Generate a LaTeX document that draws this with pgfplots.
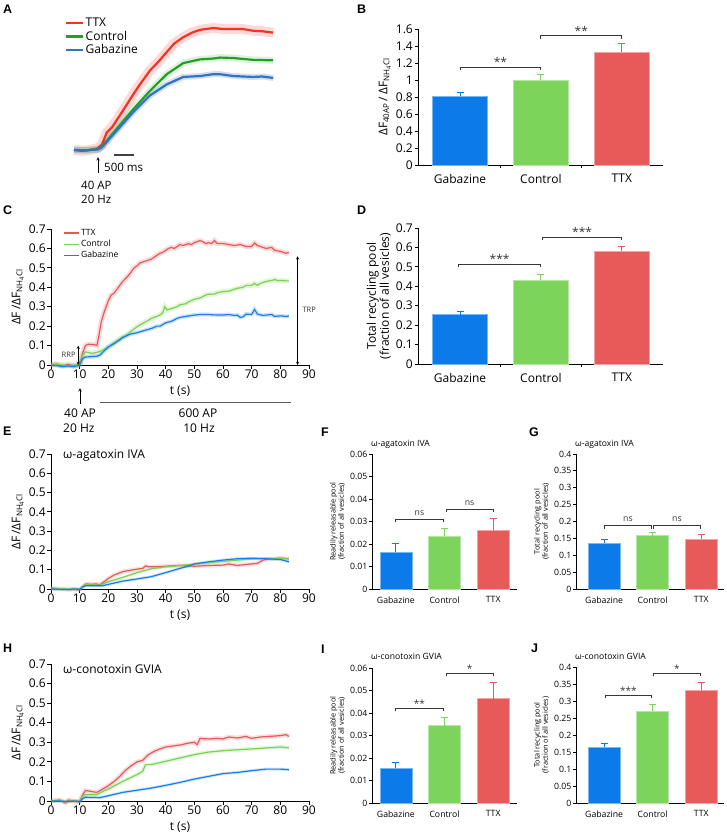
\documentclass[border=0pt]{standalone}
\usepackage{fontspec}
\setmainfont{Open Sans}
\newfontfamily\letterfont{Liberation Sans}
\usepackage{pgfplots}
\usepackage{pgfplotstable}
\pgfplotsset{compat=1.18}

\definecolor{cGab}{RGB}{12,122,232}
\definecolor{cCtl}{RGB}{125,212,90}
\definecolor{cTTX}{RGB}{232,90,90}
\definecolor{lTTX}{RGB}{232,88,88}
\definecolor{lCtl}{RGB}{122,210,82}
\definecolor{lGab}{RGB}{25,125,240}
\definecolor{aTTX}{RGB}{245,50,35}
\definecolor{aCtl}{RGB}{35,160,35}
\definecolor{aGab}{RGB}{50,115,195}
\definecolor{brk}{RGB}{55,55,55}

% ---------- Panel A data (t in s from stimulus, normalised dF) ----------
\pgfplotstableread[row sep=\\]{t v\\ -0.6 0\\ -0.4 -0.01\\ -0.2 0\\ 0 0.02\\ 0.1 0.06\\ 0.22 0.19\\ 0.35 0.245\\ 0.6 0.41\\ 0.88 0.6\\ 1.05 0.71\\ 1.3 0.86\\ 1.5 0.95\\ 1.72 1.06\\ 1.9 1.15\\ 2.13 1.22\\ 2.35 1.27\\ 2.55 1.3\\ 2.88 1.32\\ 3.1 1.31\\ 3.38 1.31\\ 3.6 1.31\\ 3.88 1.29\\ 4.1 1.285\\ 4.38 1.27\\}\Attx
\pgfplotstableread[row sep=\\]{t v\\ -0.6 0\\ -0.3 -0.005\\ 0 0.01\\ 0.1 0.04\\ 0.47 0.23\\ 0.88 0.44\\ 1.3 0.64\\ 1.72 0.82\\ 2.13 0.94\\ 2.55 0.98\\ 2.9 0.99\\ 3.05 1.0\\ 3.38 0.995\\ 3.88 0.975\\ 4.38 0.97\\}\Actl
\pgfplotstableread[row sep=\\]{t v\\ -0.6 0\\ -0.3 -0.003\\ 0 0.005\\ 0.1 0.03\\ 0.47 0.21\\ 0.88 0.41\\ 1.3 0.59\\ 1.72 0.71\\ 2.13 0.79\\ 2.55 0.8\\ 2.88 0.82\\ 3.05 0.82\\ 3.38 0.8\\ 3.88 0.79\\ 4.1 0.795\\ 4.38 0.78\\}\Agab

% ---------- Panel C ----------
\pgfplotstableread[row sep=\\]{t v\\ 0 0\\ 2 0.005\\ 4 -0.005\\ 6 0.003\\ 8 -0.005\\ 10 0\\ 11 0.06\\ 12 0.1\\ 13 0.107\\ 15 0.105\\ 16 0.1\\ 16.7 0.15\\ 17.5 0.22\\ 18.5 0.27\\ 20 0.33\\ 21 0.36\\ 22 0.37\\ 23 0.39\\ 24 0.41\\ 25 0.43\\ 26 0.445\\ 27 0.46\\ 28 0.48\\ 29 0.5\\ 30 0.51\\ 31 0.525\\ 32 0.53\\ 33 0.535\\ 34 0.54\\ 35 0.545\\ 36 0.555\\ 37 0.565\\ 38 0.575\\ 39 0.58\\ 40 0.59\\ 41 0.6\\ 42 0.605\\ 43 0.6\\ 44 0.61\\ 45 0.62\\ 46 0.615\\ 47 0.62\\ 48 0.625\\ 49 0.62\\ 50 0.63\\ 51 0.635\\ 52 0.64\\ 53 0.635\\ 54 0.625\\ 55 0.63\\ 56 0.625\\ 57 0.64\\ 58 0.625\\ 59 0.625\\ 60 0.625\\ 62 0.62\\ 64 0.615\\ 66 0.62\\ 68 0.61\\ 70 0.61\\ 71 0.628\\ 72 0.615\\ 73 0.61\\ 75 0.6\\ 77 0.605\\ 78 0.59\\ 80 0.585\\ 81 0.58\\ 82 0.575\\ 83 0.58\\}\Cttx
\pgfplotstableread[row sep=\\]{t v\\ 0 0\\ 2 0.003\\ 4 0\\ 6 -0.003\\ 8 0\\ 10 0\\ 11 0.05\\ 12 0.067\\ 13 0.065\\ 14 0.06\\ 15 0.062\\ 16 0.065\\ 18 0.076\\ 20 0.093\\ 22 0.115\\ 24 0.135\\ 25 0.145\\ 26 0.15\\ 28 0.175\\ 30 0.197\\ 32 0.215\\ 34 0.23\\ 35 0.24\\ 36 0.245\\ 38 0.257\\ 39 0.27\\ 39.7 0.3\\ 40.5 0.283\\ 42 0.29\\ 44 0.3\\ 45 0.31\\ 47 0.315\\ 48 0.325\\ 50 0.338\\ 52 0.345\\ 54 0.36\\ 55 0.364\\ 57 0.365\\ 58 0.372\\ 60 0.378\\ 62 0.38\\ 64 0.39\\ 65 0.395\\ 67 0.4\\ 68 0.41\\ 70 0.41\\ 71 0.42\\ 72 0.41\\ 73 0.42\\ 75 0.43\\ 77 0.435\\ 78 0.44\\ 79 0.435\\ 80 0.435\\ 82 0.433\\ 83 0.433\\}\Cctl
\pgfplotstableread[row sep=\\]{t v\\ 0 0\\ 2 -0.003\\ 4 -0.008\\ 6 -0.005\\ 8 -0.008\\ 10 0\\ 11 0.033\\ 12 0.041\\ 14 0.043\\ 16 0.045\\ 17 0.05\\ 18 0.065\\ 20 0.093\\ 22 0.11\\ 24 0.13\\ 25 0.141\\ 27 0.155\\ 28 0.16\\ 30 0.166\\ 32 0.175\\ 35 0.188\\ 37 0.2\\ 38 0.2\\ 40 0.217\\ 42 0.225\\ 44 0.24\\ 45 0.245\\ 47 0.25\\ 50 0.257\\ 52 0.26\\ 55 0.26\\ 57 0.258\\ 60 0.257\\ 62 0.26\\ 64 0.255\\ 65 0.257\\ 66 0.245\\ 67 0.248\\ 68 0.262\\ 70 0.26\\ 71 0.286\\ 72 0.262\\ 74 0.255\\ 75 0.257\\ 77 0.26\\ 78 0.25\\ 80 0.253\\ 82 0.25\\ 83 0.252\\}\Cgab

% ---------- Panel E ----------
\pgfplotstableread[row sep=\\]{t v\\ 0 0.005\\ 2 0.003\\ 4 0\\ 6 -0.003\\ 8 -0.002\\ 10 -0.005\\ 11 0.01\\ 12 0.026\\ 14 0.025\\ 16 0.026\\ 17 0.022\\ 19 0.043\\ 20 0.055\\ 22 0.072\\ 25 0.09\\ 28 0.098\\ 30 0.103\\ 32 0.107\\ 33 0.12\\ 34 0.115\\ 36 0.115\\ 40 0.118\\ 45 0.122\\ 50 0.118\\ 55 0.122\\ 60 0.124\\ 62 0.13\\ 65 0.122\\ 70 0.13\\ 72 0.133\\ 74 0.15\\ 76 0.155\\ 80 0.16\\ 83 0.157\\}\Ettx
\pgfplotstableread[row sep=\\]{t v\\ 0 0\\ 3 0.002\\ 6 0\\ 8 0.002\\ 10 0\\ 11 0.012\\ 12 0.022\\ 17 0.02\\ 20 0.038\\ 25 0.06\\ 30 0.085\\ 35 0.105\\ 40 0.115\\ 45 0.122\\ 50 0.13\\ 55 0.136\\ 60 0.143\\ 65 0.15\\ 70 0.155\\ 75 0.158\\ 80 0.158\\ 83 0.157\\}\Ectl
\pgfplotstableread[row sep=\\]{t v\\ 0 0\\ 3 -0.002\\ 6 -0.003\\ 8 0\\ 10 -0.002\\ 11 0.01\\ 12 0.017\\ 18 0.017\\ 20 0.024\\ 25 0.041\\ 30 0.052\\ 35 0.064\\ 40 0.085\\ 45 0.107\\ 48 0.119\\ 50 0.13\\ 55 0.141\\ 60 0.15\\ 65 0.157\\ 70 0.16\\ 75 0.157\\ 80 0.153\\ 83 0.141\\}\Egab

% ---------- Panel H ----------
\pgfplotstableread[row sep=\\]{t v\\ 0 0\\ 3 0.005\\ 5 -0.01\\ 6 0.005\\ 8 0\\ 10 -0.005\\ 11 0.03\\ 12 0.054\\ 14 0.049\\ 16 0.044\\ 18 0.061\\ 20 0.078\\ 22 0.1\\ 24 0.126\\ 26 0.157\\ 28 0.18\\ 30 0.2\\ 32 0.208\\ 34 0.237\\ 36 0.254\\ 38 0.266\\ 40 0.276\\ 42 0.28\\ 45 0.286\\ 48 0.296\\ 50 0.3\\ 51 0.288\\ 52 0.32\\ 55 0.317\\ 58 0.32\\ 60 0.317\\ 62 0.327\\ 65 0.322\\ 68 0.33\\ 70 0.32\\ 73 0.327\\ 76 0.33\\ 80 0.334\\ 82 0.339\\ 83 0.33\\}\Httx
\pgfplotstableread[row sep=\\]{t v\\ 0 0\\ 3 0.003\\ 5 -0.005\\ 7 0\\ 10 0\\ 11 0.025\\ 12 0.032\\ 16 0.032\\ 18 0.049\\ 20 0.061\\ 25 0.1\\ 30 0.135\\ 32 0.152\\ 32.7 0.177\\ 33 0.186\\ 35 0.186\\ 40 0.203\\ 45 0.22\\ 50 0.237\\ 55 0.25\\ 60 0.257\\ 65 0.262\\ 70 0.266\\ 75 0.271\\ 80 0.276\\ 83 0.272\\}\Hctl
\pgfplotstableread[row sep=\\]{t v\\ 0 0\\ 3 0\\ 6 -0.003\\ 8 0\\ 10 -0.003\\ 11 0.012\\ 12 0.019\\ 17 0.017\\ 20 0.027\\ 25 0.044\\ 30 0.055\\ 35 0.066\\ 40 0.08\\ 45 0.095\\ 50 0.112\\ 55 0.126\\ 60 0.14\\ 65 0.146\\ 70 0.155\\ 75 0.163\\ 80 0.163\\ 83 0.16\\}\Hgab

\newcommand{\fs}[1]{\fontsize{#1}{#1}\selectfont}
% bracket: x1, x2, xmid, y, text, font size, text yshift
\newcommand{\br}[7]{%
  \draw[brk, line width=0.9pt] ([yshift=-3pt]axis cs:#1,#4) -- (axis cs:#1,#4) -- (axis cs:#2,#4) -- ([yshift=-3pt]axis cs:#2,#4);
  \node[anchor=base, inner sep=0pt, text=brk, font=\fs{#6}] at ([yshift=#7]axis cs:#3,#4) {#5};}

\pgfplotsset{
  base/.style={scale only axis, anchor=south west, axis x line*=bottom, axis y line*=left,
    axis line style={line width=0.9pt, black}, tick style={line width=0.9pt, black},
    tick align=outside, major tick length=3.5pt, scaled ticks=false, clip=false,
    /pgf/number format/assume math mode=true, /pgf/number format/fixed,
    /pgf/number format/precision=3},
  big/.style={base, tick label style={font=\fs{12}, inner sep=1.5pt}, label style={font=\fs{12}}},
  small/.style={base, major tick length=3pt, tick label style={font=\fs{8.7}, inner sep=1.5pt},
    label style={font=\fs{7.3}}},
  barax/.style={ybar, bar shift=0pt, xtick={0,1,2}, xticklabels={Gabazine,Control,TTX},
    xtick style={draw=none}, ymin=0},
  errb/.style={error bars/y dir=plus, error bars/y explicit,
    error bars/error bar style={#1, line width=1pt},
    error bars/error mark options={#1, line width=1pt, mark size=3.5pt, rotate=90}},
  lineax/.style={big, width=258pt, xmin=0, xmax=90, ymin=0, ymax=0.7,
    xtick={0,10,20,30,40,50,60,70,80,90}, ytick={0,0.1,0.2,0.3,0.4,0.5,0.6,0.7},
    xlabel={t (s)}, xlabel style={yshift=-2pt},
    ylabel={ΔF\,/ΔF\textsubscript{NH\textsubscript{4}Cl}}},
}

\begin{document}
\begin{tikzpicture}
\path[use as bounding box] (0pt,0pt) rectangle (726pt,-838pt);

% ================= A =================
\begin{axis}[scale only axis, anchor=south west, at={(74pt,-159.2pt)}, width=200pt, height=138.6pt,
  xmin=-0.6, xmax=4.4, ymin=-0.1, ymax=1.4, hide axis, clip=false,
  legend style={draw=none, fill=none, at={(axis cs:-0.83,1.445)}, anchor=north west,
    font=\fs{12}, inner sep=0pt, row sep=0pt, nodes={inner sep=1.5pt}},
  legend cell align=left,
  legend image code/.code={\draw[#1] (0pt,0pt) -- (17pt,0pt);}]
\addplot[aTTX, line width=10pt, opacity=0.18, forget plot] table[x=t,y=v]{\Attx};
\addplot[aCtl, line width=7pt, opacity=0.15, forget plot] table[x=t,y=v]{\Actl};
\addplot[aGab, line width=6pt, opacity=0.22, forget plot] table[x=t,y=v]{\Agab};
\addplot[aTTX, line width=2.2pt] table[x=t,y=v]{\Attx};
\addplot[aCtl, line width=2.2pt] table[x=t,y=v]{\Actl};
\addplot[aGab, line width=2.2pt] table[x=t,y=v]{\Agab};
\legend{TTX,Control,Gabazine}
\draw[line width=1.2pt, black!75] (axis cs:0.4,-0.055) -- (axis cs:0.9,-0.055);
\end{axis}
\draw[->, >=stealth, line width=0.6pt] (98pt,-173pt) -- (98pt,-157pt);
\node[anchor=west, inner sep=0pt, font=\fs{11.5}] at (104pt,-167pt) {500 ms};
\node[anchor=west, inner sep=0pt, font=\fs{11.5}] at (81pt,-185pt) {40 AP};
\node[anchor=west, inner sep=0pt, font=\fs{11.5}] at (81pt,-199pt) {20 Hz};

% ================= B =================
\begin{axis}[big, barax, at={(418pt,-165pt)}, width=245pt, height=136pt,
  xmin=-0.52, xmax=2.51, ymax=1.6, bar width=0.68,
  ytick={0,0.2,0.4,0.6,0.8,1,1.2,1.4,1.6}, xticklabel style={yshift=-4pt},
  ylabel={ΔF\textsubscript{40AP}\,/\,ΔF\textsubscript{NH\textsubscript{4}Cl}}]
\addplot[fill=cGab, draw=cGab!55!white, line width=0.6pt, errb=cGab] coordinates {(0,0.81) +- (0,0.043)};
\addplot[fill=cCtl, draw=cCtl!55!white, line width=0.6pt, errb=cCtl] coordinates {(1,0.998) +- (0,0.067)};
\addplot[fill=cTTX, draw=cTTX!55!white, line width=0.6pt, errb=cTTX] coordinates {(2,1.329) +- (0,0.098)};
\draw[line width=0.9pt] (axis cs:0.5,0) -- ([yshift=-3pt]axis cs:0.5,0);
\draw[line width=0.9pt] (axis cs:1.5,0) -- ([yshift=-3pt]axis cs:1.5,0);
\br{0}{1}{0.5}{1.152}{**}{12}{0.5pt}
\br{1}{2}{1.5}{1.521}{**}{12}{0.5pt}
\end{axis}

% ================= C =================
\begin{axis}[lineax, at={(51pt,-365pt)}, height=136pt,
  legend style={draw=none, fill=none, at={(axis cs:4.2,0.708)}, anchor=north west,
    font=\fs{8.6}, inner sep=0pt, row sep=0pt, nodes={inner sep=1.6pt}},
  legend cell align=left,
  legend image code/.code={\draw[#1] (0pt,0pt) -- (15pt,0pt);}]
\addplot[lTTX, line width=5pt, opacity=0.22, forget plot] table[x=t,y=v]{\Cttx};
\addplot[lCtl, line width=5pt, opacity=0.22, forget plot] table[x=t,y=v]{\Cctl};
\addplot[lGab, line width=4pt, opacity=0.22, forget plot] table[x=t,y=v]{\Cgab};
\addplot[lTTX, line width=1.2pt] table[x=t,y=v]{\Cttx};
\addplot[lCtl, line width=1.2pt] table[x=t,y=v]{\Cctl};
\addplot[lGab, line width=1.2pt] table[x=t,y=v]{\Cgab};
\legend{TTX,Control,Gabazine}
\draw[<->, >=stealth, line width=0.5pt] (axis cs:9.5,0) -- (axis cs:9.5,0.1);
\node[anchor=east, inner sep=0.5pt, font=\fs{7.5}, text=black!80] at (axis cs:8.8,0.053) {RRP};
\draw[<->, >=stealth, line width=0.5pt] (axis cs:86,0) -- (axis cs:86,0.56);
\node[anchor=west, inner sep=0.5pt, font=\fs{7.5}, text=black!80] at (axis cs:87.5,0.283) {TRP};
\end{axis}
\draw[->, >=stealth, line width=0.6pt] (80pt,-404pt) -- (80pt,-388pt);
\draw[line width=1.3pt, black!65] (100pt,-402.5pt) -- (291pt,-402.5pt);
\node[anchor=west, inner sep=0pt, font=\fs{12}] at (64pt,-413.5pt) {40 AP};
\node[anchor=west, inner sep=0pt, font=\fs{12}] at (63pt,-428pt) {20 Hz};
\node[inner sep=0pt, font=\fs{12}] at (198pt,-413.5pt) {600 AP};
\node[inner sep=0pt, font=\fs{12}] at (199pt,-428pt) {10 Hz};

% ================= D =================
\begin{axis}[big, barax, at={(418pt,-364pt)}, width=245pt, height=136pt,
  xmin=-0.52, xmax=2.51, ymax=0.7, bar width=0.68,
  ytick={0,0.1,0.2,0.3,0.4,0.5,0.6,0.7}, xticklabel style={yshift=-4pt},
  ylabel style={align=center}, ylabel={Total recycling pool\\(fraction of all vesicles)}]
\addplot[fill=cGab, draw=cGab!55!white, line width=0.6pt, errb=cGab] coordinates {(0,0.254) +- (0,0.017)};
\addplot[fill=cCtl, draw=cCtl!55!white, line width=0.6pt, errb=cCtl] coordinates {(1,0.432) +- (0,0.03)};
\addplot[fill=cTTX, draw=cTTX!55!white, line width=0.6pt, errb=cTTX] coordinates {(2,0.58) +- (0,0.026)};
\draw[line width=0.9pt] (axis cs:0.5,0) -- ([yshift=-3pt]axis cs:0.5,0);
\draw[line width=0.9pt] (axis cs:1.5,0) -- ([yshift=-3pt]axis cs:1.5,0);
\br{-0.02}{1}{0.49}{0.515}{***}{12}{0.5pt}
\br{1.02}{2}{1.51}{0.652}{***}{12}{0.5pt}
\end{axis}

% ================= E =================
\begin{axis}[lineax, at={(51pt,-589pt)}, height=135pt]
\addplot[lTTX, line width=4pt, opacity=0.2, forget plot] table[x=t,y=v]{\Ettx};
\addplot[lCtl, line width=3pt, opacity=0.2, forget plot] table[x=t,y=v]{\Ectl};
\addplot[lGab, line width=3pt, opacity=0.2, forget plot] table[x=t,y=v]{\Egab};
\addplot[lTTX, line width=1.2pt] table[x=t,y=v]{\Ettx};
\addplot[lCtl, line width=1.2pt] table[x=t,y=v]{\Ectl};
\addplot[lGab, line width=1.2pt] table[x=t,y=v]{\Egab};
\end{axis}
\node[anchor=west, inner sep=0pt, font=\fs{12}] at (63pt,-456pt) {ω-agatoxin IVA};

% ================= F =================
\begin{axis}[small, barax, at={(372pt,-589pt)}, width=145pt, height=135pt,
  xmin=-0.49, xmax=2.49, ymax=0.06, bar width=0.66,
  ytick={0,0.01,0.02,0.03,0.04,0.05,0.06}, xticklabel style={yshift=-3pt},
  ylabel style={align=center}, ylabel={Readily releasable pool\\(fraction of all vesicles)}]
\addplot[fill=cGab, draw=cGab!55!white, line width=0.5pt, errb=cGab] coordinates {(0,0.0163) +- (0,0.0039)};
\addplot[fill=cCtl, draw=cCtl!55!white, line width=0.5pt, errb=cCtl] coordinates {(1,0.0235) +- (0,0.0035)};
\addplot[fill=cTTX, draw=cTTX!55!white, line width=0.5pt, errb=cTTX] coordinates {(2,0.0261) +- (0,0.0054)};
\br{0}{0.97}{0.485}{0.031}{ns}{8.7}{4pt}
\br{1.03}{2}{1.515}{0.0355}{ns}{8.7}{4pt}
\end{axis}
\node[anchor=west, inner sep=0pt, font=\fs{8.6}] at (371pt,-444pt) {ω-agatoxin IVA};

% ================= G =================
\begin{axis}[small, barax, at={(576pt,-589pt)}, width=148pt, height=135pt,
  xmin=-0.58, xmax=2.47, ymax=0.4, bar width=0.66,
  ytick={0,0.05,0.1,0.15,0.2,0.25,0.3,0.35,0.4}, xticklabel style={yshift=-3pt},
  ylabel style={align=center}, ylabel={Total recycling pool\\(fraction of all vesicles)}]
\addplot[fill=cGab, draw=cGab!55!white, line width=0.5pt, errb=cGab] coordinates {(0,0.1356) +- (0,0.012)};
\addplot[fill=cCtl, draw=cCtl!55!white, line width=0.5pt, errb=cCtl] coordinates {(1,0.158) +- (0,0.01)};
\addplot[fill=cTTX, draw=cTTX!55!white, line width=0.5pt, errb=cTTX] coordinates {(2,0.1485) +- (0,0.0135)};
\br{0}{0.98}{0.49}{0.187}{ns}{8.7}{4pt}
\br{1.02}{1.98}{1.5}{0.187}{ns}{8.7}{4pt}
\end{axis}
\node[anchor=west, inner sep=0pt, font=\fs{8.6}] at (575pt,-444pt) {ω-agatoxin IVA};

% ================= H =================
\begin{axis}[lineax, at={(51pt,-801pt)}, height=137pt]
\addplot[lTTX, line width=4.5pt, opacity=0.2, forget plot] table[x=t,y=v]{\Httx};
\addplot[lCtl, line width=4pt, opacity=0.2, forget plot] table[x=t,y=v]{\Hctl};
\addplot[lGab, line width=3pt, opacity=0.2, forget plot] table[x=t,y=v]{\Hgab};
\addplot[lTTX, line width=1.2pt] table[x=t,y=v]{\Httx};
\addplot[lCtl, line width=1.2pt] table[x=t,y=v]{\Hctl};
\addplot[lGab, line width=1.2pt] table[x=t,y=v]{\Hgab};
\end{axis}
\node[anchor=west, inner sep=0pt, font=\fs{12}] at (63pt,-669pt) {ω-conotoxin GVIA};

% ================= I =================
\begin{axis}[small, barax, at={(372pt,-803pt)}, width=145pt, height=135pt,
  xmin=-0.49, xmax=2.49, ymax=0.06, bar width=0.66,
  ytick={0,0.01,0.02,0.03,0.04,0.05,0.06}, xticklabel style={yshift=-3pt},
  ylabel style={align=center}, ylabel={Readily releasable pool\\(fraction of all vesicles)}]
\addplot[fill=cGab, draw=cGab!55!white, line width=0.5pt, errb=cGab] coordinates {(0,0.0154) +- (0,0.0024)};
\addplot[fill=cCtl, draw=cCtl!55!white, line width=0.5pt, errb=cCtl] coordinates {(1,0.0344) +- (0,0.0038)};
\addplot[fill=cTTX, draw=cTTX!55!white, line width=0.5pt, errb=cTTX] coordinates {(2,0.0464) +- (0,0.0071)};
\br{0}{0.97}{0.485}{0.0421}{**}{10}{0.5pt}
\br{1.03}{2}{1.515}{0.0578}{*}{10}{0.5pt}
\end{axis}
\node[anchor=west, inner sep=0pt, font=\fs{8.6}] at (371pt,-656pt) {ω-conotoxin GVIA};

% ================= J =================
\begin{axis}[small, barax, at={(576pt,-803pt)}, width=148pt, height=136pt,
  xmin=-0.58, xmax=2.47, ymax=0.4, bar width=0.66,
  ytick={0,0.05,0.1,0.15,0.2,0.25,0.3,0.35,0.4}, xticklabel style={yshift=-3pt},
  ylabel style={align=center}, ylabel={Total recycling pool\\(fraction of all vesicles)}]
\addplot[fill=cGab, draw=cGab!55!white, line width=0.5pt, errb=cGab] coordinates {(0,0.1635) +- (0,0.011)};
\addplot[fill=cCtl, draw=cCtl!55!white, line width=0.5pt, errb=cCtl] coordinates {(1,0.27) +- (0,0.0206)};
\addplot[fill=cTTX, draw=cTTX!55!white, line width=0.5pt, errb=cTTX] coordinates {(2,0.332) +- (0,0.0227)};
\br{0.02}{0.98}{0.5}{0.317}{***}{10}{0.5pt}
\br{1.02}{1.98}{1.5}{0.381}{*}{10}{0.5pt}
\end{axis}
\node[anchor=west, inner sep=0pt, font=\fs{8.6}] at (575pt,-656pt) {ω-conotoxin GVIA};

% ================= panel letters =================
\foreach \L/\x/\y in {A/3/5, B/357/5, C/3/206, D/357/206, E/3/427, F/321/428, G/529/428, H/3/644, I/321/645, J/531/644}
  \node[anchor=north west, inner sep=0pt, font=\letterfont\bfseries\fs{12.5}] at (\x pt,-\y pt) {\L};
\end{tikzpicture}
\end{document}
